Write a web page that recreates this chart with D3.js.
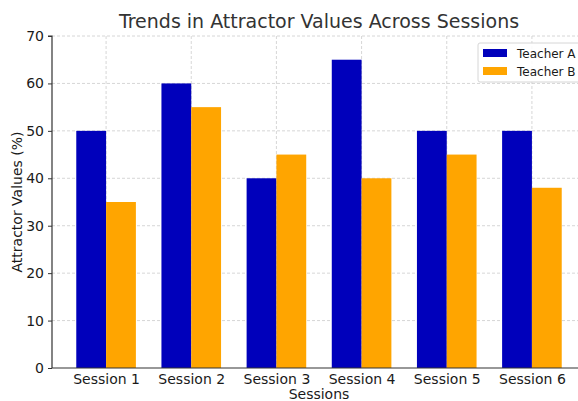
<!DOCTYPE html>
<html>
<head>
<meta charset="utf-8">
<script src="https://cdn.jsdelivr.net/npm/d3@7"></script>
<style>
  html, body { margin: 0; padding: 0; background: #fff; overflow: hidden; }
  svg { display: block; font-family: "DejaVu Sans", sans-serif; }
</style>
</head>
<body>
<svg id="chart" width="578" height="401"></svg>
<script>
const sessions = ["Session 1", "Session 2", "Session 3", "Session 4", "Session 5", "Session 6"];
const teacherA = [50, 60, 40, 65, 50, 50];
const teacherB = [35, 55, 45, 40, 45, 38];
const seriesNames = ["Teacher A", "Teacher B"];
const seriesColors = ["#0000bb", "#ffa500"];
const yTicks = [0, 10, 20, 30, 40, 50, 60, 70];

const svg = d3.select("#chart");
const plotL = 52, plotR = 586, plotT = 36, plotB = 368;
const barW = 0.35;

// category positions in index units, padded like a plotting library's auto margins
const x = d3.scaleLinear().domain([-0.635, sessions.length - 1 + 0.635]).range([plotL, plotR]);
const y = d3.scaleLinear().domain([0, 70]).range([plotB, plotT]);

// grid
const grid = svg.append("g").attr("stroke", "#cccccc").attr("stroke-width", 0.8).attr("stroke-dasharray", "3,2");
grid.selectAll("line.h").data(yTicks.slice(1)).join("line")
  .attr("x1", plotL).attr("x2", plotR)
  .attr("y1", d => y(d)).attr("y2", d => y(d));
grid.selectAll("line.v").data(sessions).join("line")
  .attr("x1", (d, i) => x(i)).attr("x2", (d, i) => x(i))
  .attr("y1", plotT).attr("y2", plotB);

// bars
const series = [teacherA, teacherB];
series.forEach((vals, s) => {
  svg.append("g").selectAll("rect").data(vals).join("rect")
    .attr("x", (d, i) => x(i - barW + s * barW))
    .attr("width", x(barW) - x(0))
    .attr("y", d => y(d))
    .attr("height", d => y(0) - y(d))
    .attr("fill", seriesColors[s]);
});

// axes
const yAxis = d3.axisLeft(y).tickValues(yTicks).tickSize(4).tickPadding(4);
const gy = svg.append("g").attr("transform", `translate(${plotL},0)`).call(yAxis);
gy.select(".domain").attr("stroke", "#333").attr("stroke-width", 1.2).attr("d", `M-4,${plotT}H0V${plotB}`);
gy.selectAll(".tick line").attr("stroke", "#333");
gy.selectAll(".tick text").attr("font-size", 14).attr("fill", "#1a1a1a").attr("font-family", "DejaVu Sans, sans-serif");

const xAxis = d3.axisBottom(x)
  .tickValues(d3.range(sessions.length)).tickFormat(i => sessions[i]).tickSize(0).tickPadding(6);
const gx = svg.append("g").attr("transform", `translate(0,${plotB})`).call(xAxis);
gx.select(".domain").attr("stroke", "#333").attr("stroke-width", 1.2).attr("d", `M${plotL},0H${plotR}`);
gx.selectAll(".tick text").attr("font-size", 14).attr("fill", "#1a1a1a").attr("font-family", "DejaVu Sans, sans-serif");

// titles
svg.append("text").attr("x", (plotL + plotR) / 2).attr("y", 28).attr("text-anchor", "middle")
  .attr("font-size", 19).attr("fill", "#333").text("Trends in Attractor Values Across Sessions");
svg.append("text").attr("transform", `translate(22,${(plotT + plotB) / 2}) rotate(-90)`)
  .attr("text-anchor", "middle").attr("font-size", 14).attr("fill", "#1a1a1a").text("Attractor Values (%)");
svg.append("text").attr("x", (plotL + plotR) / 2).attr("y", 399).attr("text-anchor", "middle")
  .attr("font-size", 14).attr("fill", "#1a1a1a").text("Sessions");

// legend
const lg = svg.append("g").attr("transform", "translate(478,43)");
lg.append("rect").attr("width", 106).attr("height", 39).attr("rx", 2)
  .attr("fill", "#fff").attr("fill-opacity", 0.85).attr("stroke", "#d6d6d6");
seriesNames.forEach((n, i) => {
  lg.append("rect").attr("x", 5).attr("y", 6 + i * 18).attr("width", 24).attr("height", 8).attr("fill", seriesColors[i]);
  lg.append("text").attr("x", 39).attr("y", 14.5 + i * 18).attr("font-size", 12).attr("fill", "#1a1a1a").text(n);
});
</script>
</body>
</html>
